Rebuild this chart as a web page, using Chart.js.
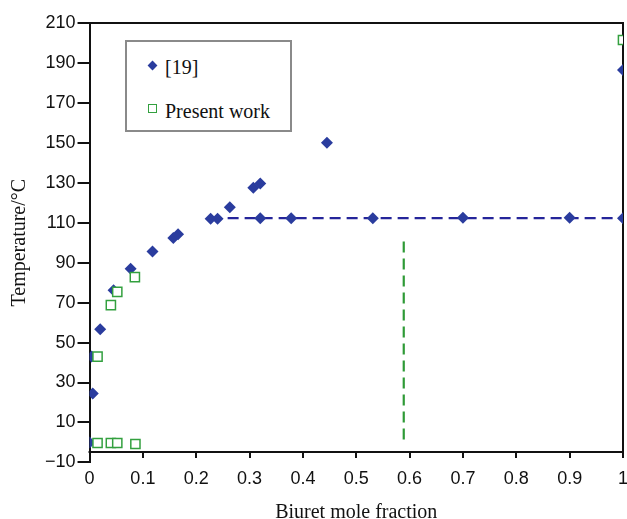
<!DOCTYPE html>
<html>
<head>
<meta charset="utf-8">
<script src="https://cdn.jsdelivr.net/npm/chart.js@4.4.1/dist/chart.umd.min.js"></script>
<style>
  html, body { margin: 0; padding: 0; background: #fff; }
  #wrap { position: relative; width: 627px; height: 519px; }
  #legend {
    position: absolute; left: 125px; top: 40px; width: 163px; height: 88px;
    border: 2px solid #8a8a8a; background: #fff;
    font-family: "Liberation Serif", "Times New Roman", serif; font-size: 20px; color: #111;
  }
  .item { position: absolute; left: 0; height: 20px; line-height: 20px; white-space: nowrap; }
  .item span.txt { position: absolute; left: 38px; top: 0; }
  .mark { position: absolute; box-sizing: border-box; }
  .mark.diamond { transform: rotate(45deg); width: 7px; height: 7px; left: 22px; top: 5px; }
  .mark.square { width: 9px; height: 9px; left: 21px; top: 3px; }
</style>
</head>
<body>
<div id="wrap">
  <canvas id="chart" width="627" height="519"></canvas>
  <div id="legend"></div>
</div>
<script>
// --- DATA ---
const seriesNames = ['[19]', 'Present work'];

// [19] (literature)
const refX = [0, 0.004, 0.006, 0.02, 0.045, 0.077, 0.118, 0.157, 0.166, 0.227, 0.24, 0.263, 0.307, 0.32, 0.32, 0.378, 0.445, 0.531, 0.7, 0.9, 1, 1];
const refY = [0, 43, 24.5, 56.7, 76.2, 87, 95.6, 102.4, 104.2, 112, 112, 117.8, 127.5, 129.6, 112.3, 112.3, 150, 112.3, 112.5, 112.5, 112.3, 186.5];

// present work
const workX = [0.015, 0.04, 0.052, 0.085, 0.015, 0.04, 0.052, 0.086, 1];
const workY = [43, 68.7, 75.4, 82.8, -0.3, -0.3, -0.3, -0.8, 201.5];

// guide lines: eutectic temperature and composition
const eutecticX = [0.227, 1];
const eutecticY = [112.3, 112.3];
const compositionX = [0.589, 0.589];
const compositionY = [1.5, 103];

const xTicks = [0, 0.1, 0.2, 0.3, 0.4, 0.5, 0.6, 0.7, 0.8, 0.9, 1];
const yTicks = [-10, 10, 30, 50, 70, 90, 110, 130, 150, 170, 190, 210];
const xAxisCross = -5;   // the horizontal axis sits at y = -5

const blue = '#2a3c9e';
const navy = '#25259a';
const green = '#33a03f';
const greenLine = '#2e9a36';

const toPoints = (xs, ys) => xs.map((x, i) => ({ x: x, y: ys[i] }));

// --- LEGEND (html, inside plot) ---
document.getElementById('legend').innerHTML = `
  <div class="item" style="top:15px"><span class="mark diamond" style="background:${blue}"></span><span class="txt">${seriesNames[0]}</span></div>
  <div class="item" style="top:59px"><span class="mark square" style="border:1.5px solid ${green}"></span><span class="txt">${seriesNames[1]}</span></div>`;

// --- FRAME: top/right border + horizontal axis at y = -5 with its ticks ---
const framePlugin = {
  id: 'frame',
  beforeDatasetsDraw(chart) {
    const { ctx, scales: { x, y } } = chart;
    const l = x.getPixelForValue(xTicks[0]), r = x.getPixelForValue(xTicks[xTicks.length - 1]);
    const t = y.getPixelForValue(yTicks[yTicks.length - 1]), b = Math.round(y.getPixelForValue(xAxisCross));
    ctx.save();
    ctx.strokeStyle = '#111';
    ctx.lineWidth = 2;
    ctx.beginPath();
    ctx.moveTo(l - 1, b); ctx.lineTo(r, b); ctx.lineTo(r, t); ctx.lineTo(l, t);
    xTicks.forEach(v => {
      const px = Math.round(x.getPixelForValue(v));
      ctx.moveTo(px, b); ctx.lineTo(px, b + 6);
    });
    ctx.stroke();
    ctx.restore();
  }
};

const tickFont = { family: '"Liberation Sans", Arial, sans-serif', size: 18 };
const titleFont = { family: '"Liberation Serif", "Times New Roman", serif', size: 20 };

new Chart(document.getElementById('chart'), {
  type: 'scatter',
  data: {
    datasets: [
      { label: seriesNames[1], data: toPoints(workX, workY), pointStyle: 'rect', pointRadius: 6.5,
        backgroundColor: '#fff', borderColor: green, pointBorderWidth: 1.5, order: 0 },
      { label: seriesNames[0], data: toPoints(refX, refY), pointStyle: 'rectRot', pointRadius: 6,
        backgroundColor: blue, borderColor: blue, pointBorderWidth: 0, order: 1 },
      { label: 'eutectic', data: toPoints(eutecticX, eutecticY), showLine: true, pointRadius: 0,
        borderColor: navy, borderWidth: 2.2, borderDash: [11, 6], order: 2 },
      { label: 'composition', data: toPoints(compositionX, compositionY), showLine: true, pointRadius: 0,
        borderColor: greenLine, borderWidth: 2.2, borderDash: [11, 6], order: 3 }
    ]
  },
  options: {
    responsive: false,
    animation: false,
    layout: { autoPadding: false, padding: { left: 0, right: 0, top: 23, bottom: -6 } },
    plugins: { legend: { display: false }, tooltip: { enabled: false } },
    scales: {
      x: {
        type: 'linear', position: 'bottom', min: 0, max: 1,
        afterBuildTicks: s => { s.ticks = xTicks.map(v => ({ value: v })); },
        afterFit: s => { s.paddingRight = 4; },
        grid: { drawOnChartArea: false, drawTicks: true, tickLength: 6, color: 'rgba(0,0,0,0)' },
        border: { display: false },
        ticks: { font: tickFont, color: '#111', padding: 0, maxRotation: 0, autoSkip: false,
                 callback: v => String(Math.round(v * 10) / 10) },
        title: { display: true, text: 'Biuret mole fraction', font: titleFont, color: '#111',
                 padding: { top: 11, bottom: 0 } }
      },
      y: {
        min: -10, max: 210,
        afterBuildTicks: s => { s.ticks = yTicks.map(v => ({ value: v })); },
        grid: { drawOnChartArea: false, tickLength: 12, color: '#111', lineWidth: 2 },
        border: { color: '#111', width: 2 },
        ticks: { font: tickFont, color: '#111', padding: 2, autoSkip: false,
                 callback: v => v < 0 ? '\u2212' + Math.abs(v) : String(v) },
        title: { display: true, text: 'Temperature/°C', font: titleFont, color: '#111',
                 padding: { top: 8, bottom: 11 } }
      }
    }
  },
  plugins: [framePlugin]
});
</script>
</body>
</html>
